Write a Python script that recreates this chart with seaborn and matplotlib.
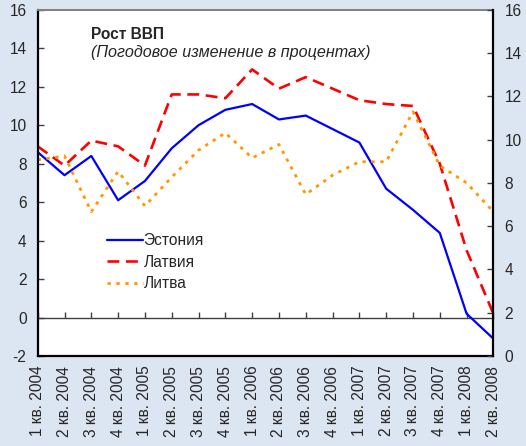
import numpy as np
import pandas as pd
import matplotlib
matplotlib.use("Agg")
import matplotlib.pyplot as plt
import seaborn as sns

# ---------------------------------------
# Data
# ---------------------------------------

quarters = ["1 кв. 2004", "2 кв. 2004", "3 кв. 2004", "4 кв. 2004",
            "1 кв. 2005", "2 кв. 2005", "3 кв. 2005", "4 кв. 2005",
            "1 кв. 2006", "2 кв. 2006", "3 кв. 2006", "4 кв. 2006",
            "1 кв. 2007", "2 кв. 2007", "3 кв. 2007", "4 кв. 2007",
            "1 кв. 2008", "2 кв. 2008"]

estonia = [8.6, 7.4, 8.4, 6.1, 7.1, 8.8, 10.0, 10.8, 11.1, 10.3, 10.5, 9.8,
           9.1, 6.7, 5.6, 4.4, 0.2, -1.1]
latvia = [8.9, 7.9, 9.2, 8.9, 7.9, 11.6, 11.6, 11.4, 12.9, 11.9, 12.5, 11.9,
          11.3, 11.1, 11.0, 8.0, 3.5, 0.2]
lithuania = [8.2, 8.4, 5.5, 7.6, 5.8, 7.3, 8.7, 9.6, 8.3, 9.0, 6.4, 7.4,
             8.1, 8.1, 10.7, 7.9, 7.0, 5.5]

left_ticks = list(range(-2, 17, 2))
right_ticks = list(range(0, 17, 2))

# ---------------------------------------
# Style
# ---------------------------------------

sns.set_style("white")
plt.rcParams["font.family"] = ["Liberation Sans", "DejaVu Sans"]
plt.rcParams["axes.unicode_minus"] = False
bg = "#dce6f2"
fs = 11.2

fig = plt.figure(figsize=(5.26, 4.46), dpi=100, facecolor=bg)
ax = fig.add_axes([0.0717, 0.2018, 0.8663, 0.7762])
ax.set_facecolor("white")

pos = np.arange(len(quarters))

series = [
    ("Эстония", estonia, "#0000ff", "-", 1.6),
    ("Латвия", latvia, "#ff0000", (0, (4.5, 2.5)), 1.9),
    ("Литва", lithuania, "#ff9900", (0, (1.2, 2.0)), 2.0),
]

for name, vals, col, ls, lw in series:
    df = pd.DataFrame({"pos": pos, "val": vals})
    sns.lineplot(data=df, x="pos", y="val", ax=ax, color=col, linestyle=ls,
                 linewidth=lw, label=name)

ax.set_xlim(0, len(quarters) - 1)
ax.set_ylim(-2, 16)
ax.set_yticks(left_ticks)
ax.set_xticks(pos)
ax.set_xticklabels(quarters, rotation=90, fontsize=fs)
ax.tick_params(axis="x", length=0, pad=7)
ax.tick_params(axis="y", direction="in", length=4, width=1, color="#404040",
               labelsize=fs, pad=8)
ax.set_xlabel("")
ax.set_ylabel("")

for s in ["left", "bottom"]:
    ax.spines[s].set_color("black")
    ax.spines[s].set_linewidth(1.6)
ax.spines["top"].set_color("#808080")
ax.spines["top"].set_linewidth(1.4)
ax.spines["right"].set_visible(False)

# zero line with category ticks
zero_frac = (0 - (-2)) / 18
sec = ax.secondary_xaxis(zero_frac)
sec.set_xticks(pos)
sec.tick_params(axis="x", direction="in", length=4, width=1, color="#404040",
                labelbottom=False, labeltop=False)
sec.spines["bottom"].set_color("#404040")
sec.spines["bottom"].set_linewidth(1.0)

# right axis
ax2 = ax.twinx()
ax2.set_ylim(0, 16)
ax2.set_yticks(right_ticks)
ax2.tick_params(axis="y", direction="in", length=4, width=1, color="#404040",
                labelsize=fs, pad=8)
for s in ["left", "top", "bottom"]:
    ax2.spines[s].set_visible(False)
ax2.spines["right"].set_color("black")
ax2.spines["right"].set_linewidth(1.6)

# titles
ax.text(0.117, 0.93, "Рост ВВП", transform=ax.transAxes, fontsize=fs,
        fontweight="bold", va="center")
ax.text(0.117, 0.877, "(Погодовое изменение в процентах)", transform=ax.transAxes,
        fontsize=11.6, fontstyle="italic", va="center")

ax.legend(loc="upper left", bbox_to_anchor=(0.152, 0.355), frameon=False,
          fontsize=fs, handlelength=2.3, handletextpad=0.05, labelspacing=0.42,
          borderaxespad=0, borderpad=0)

fig.savefig("out.png", dpi=100, facecolor=bg)
